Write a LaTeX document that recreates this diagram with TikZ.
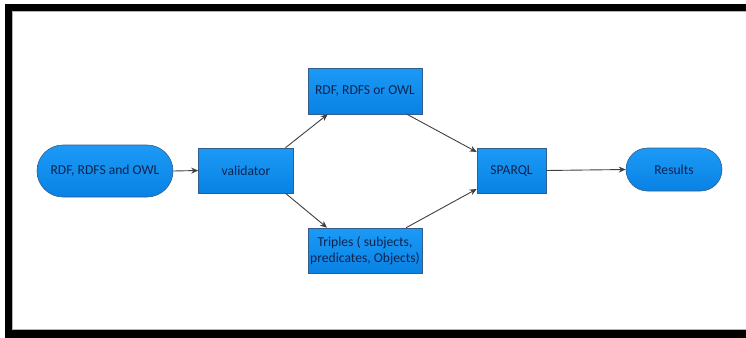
\documentclass[tikz,border=0pt]{standalone}
\usepackage{fontspec}
\setmainfont{Carlito}
\usetikzlibrary{arrows.meta}
\definecolor{boxtop}{RGB}{28,154,246}
\definecolor{boxbot}{RGB}{8,130,228}
\definecolor{boxline}{RGB}{52,92,140}
\definecolor{boxtext}{RGB}{14,36,80}
\definecolor{flow}{RGB}{64,64,64}
\tikzset{
  stepbox/.style={draw=boxline, line width=0.6pt, top color=boxtop, bottom color=boxbot,
    text=boxtext, font=\fontsize{13.6}{16.5}\selectfont, align=center, inner sep=0pt},
  pill/.style={stepbox, rounded corners=#1},
  flowarrow/.style={draw=flow, line width=0.9pt, -{Stealth[length=7pt,width=6pt]}}
}
\begin{document}
\begin{tikzpicture}[x=1pt,y=-1pt]
  \useasboundingbox (0,0) rectangle (746,337);
  % heavy frame, open on the right
  \draw[line width=7.5pt] (760,7.3) -- (8.6,7.3) -- (8.6,333.8) -- (760,333.8);
  \draw[gray!60, line width=0.6pt] (760,11.4) -- (12.6,11.4) -- (12.6,329.7) -- (760,329.7);

  \node[pill=26pt, minimum width=136pt, minimum height=52pt] (src) at (105,171) {RDF, RDFS and OWL};
  \node[stepbox, minimum width=95pt, minimum height=45pt] (val) at (246,170.5) {validator};
  \node[stepbox, minimum width=114pt, minimum height=46pt] (rdf) at (365,91) {RDF, RDFS or OWL};
  \node[stepbox, minimum width=114pt, minimum height=45pt] (trip) at (365,250.5) {Triples ( subjects,\\predicates, Objects)};
  \node[stepbox, minimum width=69pt, minimum height=45pt] (spq) at (511.5,170.5) {SPARQL};
  \node[pill=21.5pt, minimum width=96pt, minimum height=43pt] (res) at (674,169.5) {Results};

  \draw[flowarrow] (src.east) -- (val.west);
  \draw[flowarrow] (val.30) -- (rdf.212);
  \draw[flowarrow] (val.-30) -- (trip.149);
  \draw[flowarrow] (rdf.-29) -- (spq.152);
  \draw[flowarrow] (trip.29) -- (spq.208);
  \draw[flowarrow] (spq.east) -- (res.west);
\end{tikzpicture}
\end{document}
